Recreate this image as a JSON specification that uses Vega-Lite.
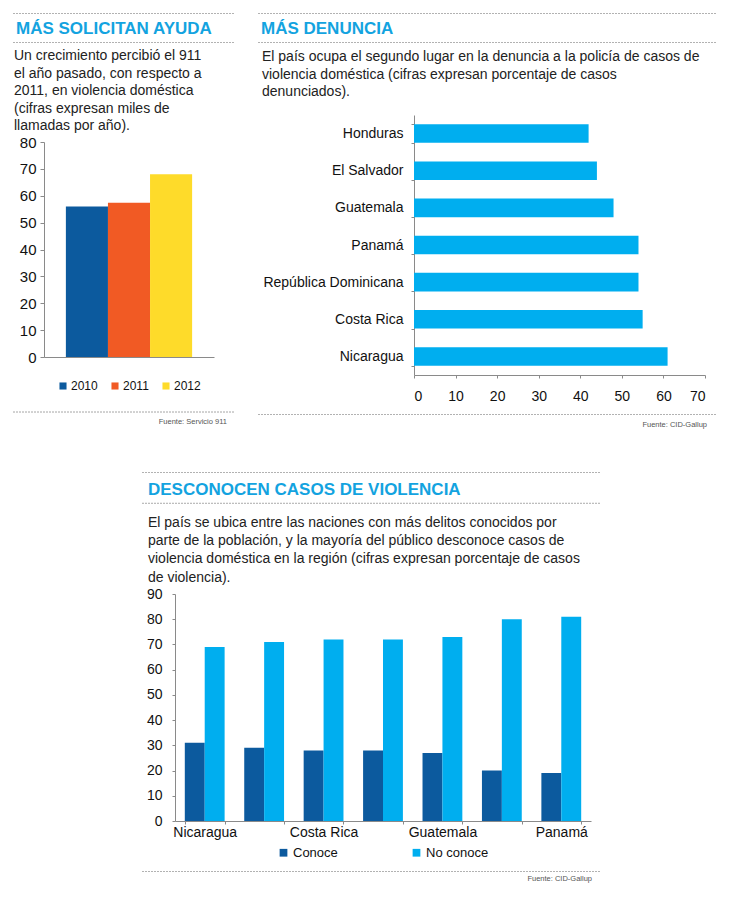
{
  "$schema": "https://vega.github.io/schema/vega-lite/v6.json",
  "padding": {"left": 12, "top": 12, "right": 4, "bottom": 4},
  "background": "white",
  "config": {
    "view": {"stroke": null},
    "font": "Liberation Sans",
    "axis": {"labelFont": "Liberation Sans", "labelColor": "#111", "domainColor": "#8a8a8a", "tickColor": "#8a8a8a", "grid": false, "title": null},
    "legend": {"layout": {"bottom": {"anchor": "middle"}}, "labelFont": "Liberation Sans", "labelColor": "#111", "padding": 0},
    "title": {"anchor": "start", "frame": "bounds", "baseline": "top"}
  },
  "resolve": {"scale": {"color": "independent"}, "legend": {"color": "independent"}},
  "datasets": {
    "empty": [],
    "calls": [
      {"year": "2010", "calls": 56},
      {"year": "2011", "calls": 57.4},
      {"year": "2012", "calls": 68}
    ],
    "denuncia": [
      {"country": "Honduras", "pct": 42},
      {"country": "El Salvador", "pct": 44},
      {"country": "Guatemala", "pct": 48},
      {"country": "Panamá", "pct": 54},
      {"country": "República Dominicana", "pct": 54},
      {"country": "Costa Rica", "pct": 55},
      {"country": "Nicaragua", "pct": 61}
    ],
    "conoce": [
      {"country": "Nicaragua", "group": "Conoce", "value": 31},
      {"country": "Nicaragua", "group": "No conoce", "value": 69},
      {"country": "El Salvador", "group": "Conoce", "value": 29},
      {"country": "El Salvador", "group": "No conoce", "value": 71},
      {"country": "Costa Rica", "group": "Conoce", "value": 28},
      {"country": "Costa Rica", "group": "No conoce", "value": 72},
      {"country": "Honduras", "group": "Conoce", "value": 28},
      {"country": "Honduras", "group": "No conoce", "value": 72},
      {"country": "Guatemala", "group": "Conoce", "value": 27},
      {"country": "Guatemala", "group": "No conoce", "value": 73},
      {"country": "República Dominicana", "group": "Conoce", "value": 20},
      {"country": "República Dominicana", "group": "No conoce", "value": 80},
      {"country": "Panamá", "group": "Conoce", "value": 19},
      {"country": "Panamá", "group": "No conoce", "value": 81}
    ]
  },
  "vconcat": [
    {
      "hconcat": [
        {
          "vconcat": [
            {
              "vconcat": [
                {"width": 221, "height": 0.01, "data": {"name": "empty"}, "mark": "point", "encoding": {},
                 "view": {"stroke": "#999", "strokeDash": [1, 2], "strokeWidth": 1},
                 "title": {"text": "MÁS SOLICITAN AYUDA", "orient": "bottom", "offset": 8, "dx": 3, "font": "Liberation Sans", "fontSize": 17, "fontWeight": "bold", "color": "#13a3e0"}},
                {"width": 221, "height": 0.01, "data": {"name": "empty"}, "mark": "point", "encoding": {},
                 "view": {"stroke": "#999", "strokeDash": [1, 2], "strokeWidth": 1},
                 "title": {"text": ["Un crecimiento  percibió el  911", "el año pasado, con respecto a", "2011, en violencia doméstica", "(cifras expresan miles de", "llamadas por año)."], "orient": "bottom", "offset": 7, "dx": 1, "font": "Liberation Sans", "fontSize": 14, "fontWeight": "normal", "lineHeight": 17.5, "color": "#222"}}
              ],
              "spacing": 3
            },
            {
              "vconcat": [
                {
                  "hconcat": [
                    {"width": 1, "height": 0.01, "data": {"name": "empty"}, "mark": "point", "encoding": {}},
                    {
                      "width": 170, "height": 215,
                      "data": {"name": "calls"},
                      "mark": {"type": "bar"},
                      "encoding": {
                        "x": {"field": "year", "type": "nominal", "scale": {"paddingInner": 0, "paddingOuter": 0.52}, "axis": {"labels": false, "ticks": false, "title": null}},
                        "y": {"field": "calls", "type": "quantitative", "scale": {"domain": [0, 80]}, "axis": {"values": [0, 10, 20, 30, 40, 50, 60, 70, 80], "labelFontSize": 15, "tickSize": 4, "labelPadding": 4, "minExtent": 30, "maxExtent": 30, "title": null}},
                        "color": {"field": "year", "type": "nominal", "scale": {"domain": ["2010", "2011", "2012"], "range": ["#0c5a9e", "#f15a24", "#fedb2a"]},
                          "legend": {"orient": "bottom", "direction": "horizontal", "title": null, "symbolType": "square", "symbolSize": 50, "labelFontSize": 12, "labelOffset": 2, "columnPadding": 11, "offset": 23}}
                      }
                    }
                  ],
                  "spacing": 0,
                  "resolve": {"scale": {"color": "independent"}, "legend": {"color": "independent"}}
                },
                {"width": 221, "height": 0.01, "data": {"name": "empty"}, "mark": "point", "encoding": {},
                 "view": {"stroke": "#999", "strokeDash": [1, 2], "strokeWidth": 1},
                 "title": {"text": "Fuente: Servicio 911", "orient": "bottom", "anchor": "end", "offset": 6, "dx": -7, "font": "Liberation Sans", "fontSize": 7.5, "fontWeight": "normal", "color": "#555"}}
              ],
              "spacing": 18.5
            }
          ],
          "spacing": 1
        },
        {
          "vconcat": [
            {
              "vconcat": [
                {"width": 458, "height": 0.01, "data": {"name": "empty"}, "mark": "point", "encoding": {},
                 "view": {"stroke": "#999", "strokeDash": [1, 2], "strokeWidth": 1},
                 "title": {"text": "MÁS DENUNCIA", "orient": "bottom", "offset": 8, "dx": 3, "font": "Liberation Sans", "fontSize": 17, "fontWeight": "bold", "color": "#13a3e0"}},
                {"width": 458, "height": 0.01, "data": {"name": "empty"}, "mark": "point", "encoding": {},
                 "view": {"stroke": "#999", "strokeDash": [1, 2], "strokeWidth": 1},
                 "title": {"text": ["El país ocupa el segundo lugar en la denuncia a la policía de casos de", "violencia doméstica (cifras expresan porcentaje de casos", "denunciados)."], "orient": "bottom", "offset": 8, "dx": 4, "font": "Liberation Sans", "fontSize": 14, "fontWeight": "normal", "lineHeight": 17.5, "color": "#222"}}
              ],
              "spacing": 3
            },
            {
              "vconcat": [
                {
                  "hconcat": [
                    {"width": 1, "height": 0.01, "data": {"name": "empty"}, "mark": "point", "encoding": {}},
                    {
                      "width": 291, "height": 260,
                      "data": {"name": "denuncia"},
                      "mark": {"type": "bar", "color": "#00aeef"},
                      "encoding": {
                        "y": {"field": "country", "type": "nominal", "sort": null, "scale": {"paddingInner": 0.5, "paddingOuter": 0.25}, "axis": {"tickBand": "extent", "tickSize": 3, "labelPadding": 8, "labelFontSize": 14, "minExtent": 155, "maxExtent": 155, "title": null}},
                        "x": {"field": "pct", "type": "quantitative", "scale": {"domain": [0, 70]}, "axis": {"values": [0, 10, 20, 30, 40, 50, 60, 70], "tickSize": 3, "labelPadding": 11, "labelFontSize": 14, "title": null}}
                      }
                    }
                  ],
                  "spacing": 0
                },
                {"width": 458, "height": 0.01, "data": {"name": "empty"}, "mark": "point", "encoding": {},
                 "view": {"stroke": "#999", "strokeDash": [1, 2], "strokeWidth": 1},
                 "title": {"text": "Fuente: CID-Gallup", "orient": "bottom", "anchor": "end", "offset": 7, "dx": -9, "font": "Liberation Sans", "fontSize": 7.5, "fontWeight": "normal", "color": "#555"}}
              ],
              "spacing": 10
            }
          ],
          "spacing": 8
        }
      ],
      "spacing": 22
    },
    {
      "hconcat": [
        {"width": 128, "height": 0.01, "data": {"name": "empty"}, "mark": "point", "encoding": {}},
        {
          "vconcat": [
            {
              "vconcat": [
                {"width": 458, "height": 0.01, "data": {"name": "empty"}, "mark": "point", "encoding": {},
                 "view": {"stroke": "#999", "strokeDash": [1, 2], "strokeWidth": 1},
                 "title": {"text": "DESCONOCEN CASOS DE VIOLENCIA", "orient": "bottom", "offset": 10, "dx": 6, "font": "Liberation Sans", "fontSize": 17, "fontWeight": "bold", "color": "#13a3e0"}},
                {"width": 458, "height": 0.01, "data": {"name": "empty"}, "mark": "point", "encoding": {},
                 "view": {"stroke": "#999", "strokeDash": [1, 2], "strokeWidth": 1},
                 "title": {"text": ["El país se ubica entre las naciones con más delitos conocidos por", "parte de la población, y la mayoría del público desconoce casos de", "violencia doméstica en la región (cifras expresan porcentaje de casos", "de violencia)."], "orient": "bottom", "offset": 13, "dx": 6, "font": "Liberation Sans", "fontSize": 14, "fontWeight": "normal", "lineHeight": 18.3, "color": "#222"}}
              ],
              "spacing": 2.8
            },
            {
              "vconcat": [
                {
                  "hconcat": [
                    {"width": 1, "height": 0.01, "data": {"name": "empty"}, "mark": "point", "encoding": {}},
                    {
                      "width": 416, "height": 227,
                      "data": {"name": "conoce"},
                      "mark": {"type": "bar"},
                      "encoding": {
                        "x": {"field": "country", "type": "nominal", "sort": null, "scale": {"paddingInner": 0.33, "paddingOuter": 0.165},
                          "axis": {"tickBand": "extent", "tickSize": 3, "labelPadding": 1, "labelFontSize": 14, "labelAngle": 0,
                            "labelExpr": "indexof(['Nicaragua','Costa Rica','Guatemala','Panamá'], datum.value) >= 0 ? datum.label : ''", "title": null}},
                        "xOffset": {"field": "group", "type": "nominal", "sort": ["Conoce", "No conoce"]},
                        "y": {"field": "value", "type": "quantitative", "scale": {"domain": [0, 90]}, "axis": {"values": [0, 10, 20, 30, 40, 50, 60, 70, 80, 90], "tickSize": 3, "labelPadding": 10, "labelFontSize": 14, "minExtent": 32, "maxExtent": 32, "title": null}},
                        "color": {"field": "group", "type": "nominal", "scale": {"domain": ["Conoce", "No conoce"], "range": ["#0c5a9e", "#00aeef"]},
                          "legend": {"orient": "bottom", "direction": "horizontal", "title": null, "symbolType": "square", "symbolSize": 60, "labelFontSize": 13, "labelOffset": 3, "columnPadding": 72, "offset": 7}}
                      }
                    }
                  ],
                  "spacing": 0,
                  "resolve": {"scale": {"color": "independent"}, "legend": {"color": "independent"}}
                },
                {"width": 458, "height": 0.01, "data": {"name": "empty"}, "mark": "point", "encoding": {},
                 "view": {"stroke": "#999", "strokeDash": [1, 2], "strokeWidth": 1},
                 "title": {"text": "Fuente: CID-Gallup", "orient": "bottom", "anchor": "end", "offset": 4, "dx": -8, "font": "Liberation Sans", "fontSize": 7.5, "fontWeight": "normal", "color": "#555"}}
              ],
              "spacing": 10
            }
          ],
          "spacing": 1
        }
      ],
      "spacing": 0
    }
  ],
  "spacing": 41
}
